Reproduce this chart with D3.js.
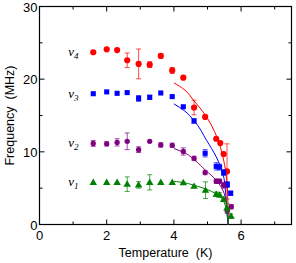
<!DOCTYPE html>
<html>
<head>
<meta charset="utf-8">
<script src="https://cdn.jsdelivr.net/npm/d3@7"></script>
<style>
  body { margin: 0; background: #fff; }
  text { font-family: "Liberation Sans", Arial, sans-serif; }
</style>
</head>
<body>
<div id="chart"></div>
<script>
// [temperature K, frequency MHz, error]
const nu4 = [
  [1.60, 23.7, 0], [2.00, 24.1, 0], [2.31, 24.0, 0], [2.61, 22.6, 1.0],
  [2.95, 22.1, 2.05], [3.28, 22.0, 0.4], [3.61, 23.2, 0.3], [3.95, 21.2, 0.4],
  [4.28, 20.2, 0], [4.60, 16.1, 1.0], [4.93, 14.8, 0], [5.26, 11.8, 0],
  [5.38, 11.2, 0], [5.48, 9.7, 0], [5.58, 7.3, 3.8]
];
const nu3 = [
  [1.60, 18.0, 0], [2.00, 18.25, 0], [2.31, 18.05, 0], [2.61, 18.15, 0],
  [2.95, 17.35, 0.4], [3.28, 17.5, 0.3], [3.61, 18.1, 0], [3.95, 17.6, 0],
  [4.28, 16.2, 0], [4.60, 14.25, 0.3], [4.93, 9.8, 0.5], [5.26, 8.0, 0.5],
  [5.36, 7.9, 0.4], [5.48, 7.15, 0.4], [5.59, 5.5, 0.4], [5.69, 4.3, 0.3]
];
const nu2 = [
  [1.60, 11.15, 0.4], [2.00, 11.1, 0.3], [2.31, 11.3, 0.5], [2.61, 11.45, 1.15],
  [2.95, 10.3, 0.4], [3.28, 11.45, 0], [3.61, 10.95, 0.3], [3.95, 10.9, 0.3],
  [4.28, 10.05, 0.5], [4.60, 9.1, 0.3], [4.93, 7.15, 0.3], [5.26, 5.95, 0.3],
  [5.36, 5.95, 0.3], [5.48, 5.4, 0.4], [5.59, 1.9, 0.4], [5.71, 2.45, 0.3]
];
const nu1 = [
  [1.60, 5.8, 0], [2.00, 5.8, 0], [2.31, 5.8, 0], [2.61, 5.55, 1.0],
  [2.95, 5.45, 0.45], [3.28, 5.8, 1.05], [3.61, 5.8, 0], [3.95, 5.8, 0],
  [4.28, 5.78, 0], [4.60, 5.27, 0], [4.94, 4.72, 1.15], [5.26, 4.17, 0.3],
  [5.36, 4.07, 0.3], [5.48, 3.45, 0.3], [5.58, 2.3, 0.6], [5.70, 1.15, 0.3]
];

// fit curves
const fit4 = [[4.0, 19.5], [4.3, 18.6], [4.6, 17.0], [4.9, 15.3], [5.1, 13.8], [5.3, 11.8], [5.45, 9.5], [5.55, 7.0], [5.6, 4.0], [5.62, 0]];
const fit3 = [[4.0, 16.6], [4.3, 15.7], [4.6, 14.3], [4.97, 11.6], [5.26, 9.3], [5.46, 7.0], [5.54, 4.3], [5.58, 1.5], [5.61, 0]];
const fit2 = [[4.0, 10.45], [4.28, 9.95], [4.62, 8.85], [4.94, 7.47], [5.26, 6.1], [5.46, 4.7], [5.56, 2.9], [5.61, 0.8], [5.62, 0]];
const fit1 = [[4.0, 5.95], [4.3, 5.75], [4.6, 5.4], [4.94, 4.9], [5.26, 4.2], [5.46, 3.35], [5.56, 2.0], [5.61, 0.8], [5.62, 0]];

const xMajor = [0, 2, 4, 6];
const xMinor = [1, 3, 5, 7];
const yMajor = [0, 10, 20, 30];
const yMinor = [5, 15, 25];

const W = 296, H = 263;
const margin = {left: 39.5, right: 4.5, top: 6.5, bottom: 38.5};

const svg = d3.select('#chart').append('svg')
  .attr('width', W).attr('height', H);

const x = d3.scaleLinear().domain([0, 7.5]).range([margin.left, W - margin.right]);
const y = d3.scaleLinear().domain([0, 30]).range([H - margin.bottom, margin.top]);

// frame
svg.append('rect')
  .attr('x', x(0)).attr('y', y(30))
  .attr('width', x(7.5) - x(0)).attr('height', y(0) - y(30))
  .attr('fill', 'none').attr('stroke', '#000').attr('stroke-width', 1.2);

// inward ticks on all four sides
const tickG = svg.append('g').attr('stroke', '#000').attr('stroke-width', 1);
function xTicks(vals, len) {
  vals.forEach(v => {
    tickG.append('line').attr('x1', x(v)).attr('x2', x(v)).attr('y1', y(0)).attr('y2', y(0) - len);
    tickG.append('line').attr('x1', x(v)).attr('x2', x(v)).attr('y1', y(30)).attr('y2', y(30) + len);
  });
}
function yTicks(vals, len) {
  vals.forEach(v => {
    tickG.append('line').attr('y1', y(v)).attr('y2', y(v)).attr('x1', x(0)).attr('x2', x(0) + len);
    tickG.append('line').attr('y1', y(v)).attr('y2', y(v)).attr('x1', x(7.5)).attr('x2', x(7.5) - len);
  });
}
xTicks(xMajor, 5); xTicks(xMinor, 3);
yTicks(yMajor, 5); yTicks(yMinor, 3);

svg.append('g').selectAll('text').data(xMajor).join('text')
  .attr('x', d => x(d)).attr('y', y(0) + 15)
  .attr('text-anchor', 'middle').attr('font-size', 13).text(d => d);

svg.append('g').selectAll('text').data(yMajor).join('text')
  .attr('x', x(0) - 2).attr('y', d => y(d) + 5)
  .attr('text-anchor', 'end').attr('font-size', 13).text(d => d);

svg.append('text')
  .attr('x', (x(0) + x(7.5)) / 2).attr('y', H - 6)
  .attr('text-anchor', 'middle').attr('font-size', 12.5)
  .attr('xml:space', 'preserve')
  .text('Temperature  (K)');

svg.append('text')
  .attr('transform', `translate(14,${(y(0) + y(30)) / 2}) rotate(-90)`)
  .attr('text-anchor', 'middle').attr('font-size', 12.5)
  .attr('xml:space', 'preserve')
  .text('Frequency  (MHz)');

const line = d3.line().x(d => x(d[0])).y(d => y(d[1])).curve(d3.curveMonotoneY);

const series = [
  {data: nu4, fit: fit4, color: '#ff0000', shape: 'circle', label: '4'},
  {data: nu3, fit: fit3, color: '#0000ff', shape: 'square', label: '3'},
  {data: nu2, fit: fit2, color: '#800080', shape: 'dot', label: '2'},
  {data: nu1, fit: fit1, color: '#008000', shape: 'triangle', label: '1'}
];

const symbols = {
  circle: d3.symbol().type(d3.symbolCircle).size(30),
  square: d3.symbol().type(d3.symbolSquare).size(26),
  dot: d3.symbol().type(d3.symbolCircle).size(22),
  triangle: d3.symbol().type(d3.symbolTriangle).size(24)
};

series.forEach(s => {
  svg.append('path')
    .attr('d', line(s.fit))
    .attr('fill', 'none').attr('stroke', s.color).attr('stroke-width', 1);

  const eb = svg.append('g').attr('stroke', s.color).attr('stroke-opacity', 0.7).attr('stroke-width', 1);
  s.data.filter(d => d[2] > 0).forEach(d => {
    const cx = x(d[0]);
    eb.append('line').attr('x1', cx).attr('x2', cx).attr('y1', y(d[1] - d[2])).attr('y2', y(d[1] + d[2]));
    eb.append('line').attr('x1', cx - 2.5).attr('x2', cx + 2.5).attr('y1', y(d[1] - d[2])).attr('y2', y(d[1] - d[2]));
    eb.append('line').attr('x1', cx - 2.5).attr('x2', cx + 2.5).attr('y1', y(d[1] + d[2])).attr('y2', y(d[1] + d[2]));
  });

  svg.append('g').selectAll('path').data(s.data).join('path')
    .attr('d', symbols[s.shape])
    .attr('transform', d => `translate(${x(d[0])},${y(d[1]) + (s.shape === 'triangle' ? 0.5 : 0)})`)
    .attr('fill', s.color);

  const first = s.data[0];
  const lab = svg.append('text')
    .attr('x', x(first[0]) - 25).attr('y', y(first[1]) + 4)
    .attr('font-family', '"Liberation Serif", "DejaVu Serif", serif')
    .attr('font-style', 'italic').attr('font-size', 13)
    .style('font-family', '"Liberation Serif", "DejaVu Serif", serif');
  lab.append('tspan').text('ν');
  lab.append('tspan').attr('font-size', 9).attr('dy', 3).text(s.label);
});
</script>
</body>
</html>
